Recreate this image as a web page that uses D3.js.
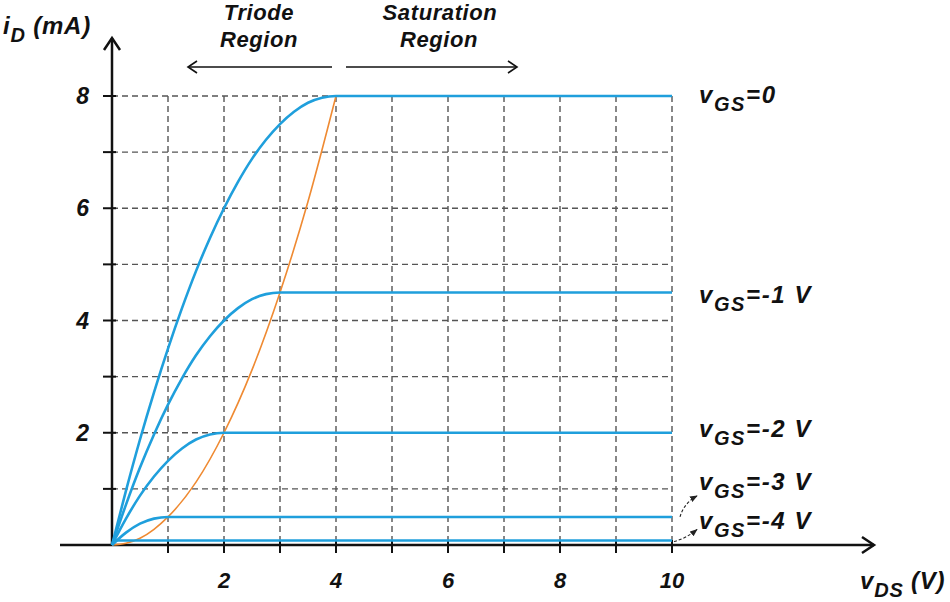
<!DOCTYPE html>
<html>
<head>
<meta charset="utf-8">
<script src="https://cdn.jsdelivr.net/npm/d3@7"></script>
<style>
  body { margin: 0; background: #fff; }
  svg { display: block; }
</style>
</head>
<body>
<div id="chart"></div>
<script>
// tick values
const gridX = [1, 2, 3, 4, 5, 6, 7, 8, 9, 10];
const gridY = [1, 2, 3, 4, 5, 6, 7, 8];
const xTickLabels = [2, 4, 6, 8, 10];
const yTickLabels = [2, 4, 6, 8];

// curve labels (text after "vGS")
const vgsLabels = ["=0", "=-1 V", "=-2 V", "=-3 V", "=-4 V"];

// drain current curves (vDS in V, iD in mA)
const vds0 = [0, 0.25, 0.5, 0.75, 1, 1.25, 1.5, 1.75, 2, 2.25, 2.5, 2.75, 3, 3.25, 3.5, 3.75, 4, 10];
const id0  = [0, 0.97, 1.88, 2.72, 3.5, 4.22, 4.88, 5.47, 6, 6.47, 6.88, 7.22, 7.5, 7.72, 7.88, 7.97, 8, 8];
const vds1 = [0, 0.25, 0.5, 0.75, 1, 1.25, 1.5, 1.75, 2, 2.25, 2.5, 2.75, 3, 10];
const id1  = [0, 0.72, 1.38, 1.97, 2.5, 2.97, 3.38, 3.72, 4, 4.22, 4.38, 4.47, 4.5, 4.5];
const vds2 = [0, 0.25, 0.5, 0.75, 1, 1.25, 1.5, 1.75, 2, 10];
const id2  = [0, 0.47, 0.88, 1.22, 1.5, 1.72, 1.88, 1.97, 2, 2];
const vds3 = [0, 0.25, 0.5, 0.75, 1, 10];
const id3  = [0, 0.22, 0.38, 0.47, 0.5, 0.5];
const vds4 = [0, 10];
const id4  = [0.08, 0.08];

// triode / saturation boundary
const vdsEdge = [0, 0.25, 0.5, 0.75, 1, 1.5, 2, 2.5, 3, 3.5, 4];
const idEdge  = [0, 0.03, 0.12, 0.28, 0.5, 1.12, 2, 3.12, 4.5, 6.12, 8];

const W = 950, H = 602;
const blue = "#1f9fdc", orange = "#ef8a32", ink = "#111";
const sans = "'Liberation Sans', Arial, sans-serif";

const svg = d3.select("#chart").append("svg")
    .attr("width", W)
    .attr("height", H)
    .attr("font-family", sans)
    .attr("font-weight", "bold")
    .attr("font-style", "italic");

const x = d3.scaleLinear().domain([0, 10]).range([112, 672]);
const y = d3.scaleLinear().domain([0, 8]).range([545, 96]);

const defs = svg.append("defs");
defs.append("marker")
    .attr("id", "tiny")
    .attr("viewBox", "0 0 10 10")
    .attr("refX", 9).attr("refY", 5)
    .attr("markerWidth", 7).attr("markerHeight", 7)
    .attr("orient", "auto")
    .append("path")
    .attr("d", "M0,1 L10,5 L0,9 Z")
    .attr("fill", "#222");

// grid
svg.append("g").selectAll("line")
    .data(gridX)
    .join("line")
    .attr("x1", d => x(d)).attr("x2", d => x(d))
    .attr("y1", y(8)).attr("y2", y(0))
    .attr("stroke", "#555")
    .attr("stroke-width", 1.4)
    .attr("stroke-dasharray", "6,4");

svg.append("g").selectAll("line")
    .data(gridY)
    .join("line")
    .attr("x1", x(0)).attr("x2", x(10))
    .attr("y1", d => y(d)).attr("y2", d => y(d))
    .attr("stroke", "#555")
    .attr("stroke-width", 1.4)
    .attr("stroke-dasharray", "6,4");

// axes with arrows
const axes = svg.append("g").attr("stroke", ink).attr("stroke-width", 2.5).attr("fill", "none");
axes.append("line").attr("x1", 60).attr("x2", 874).attr("y1", y(0)).attr("y2", y(0));
axes.append("path").attr("d", `M862,${y(0) - 8} L874,${y(0)} L862,${y(0) + 8}`);
axes.append("line").attr("x1", x(0)).attr("x2", x(0)).attr("y1", y(0)).attr("y2", 38);
axes.append("path").attr("d", `M${x(0) - 8},50 L${x(0)},38 L${x(0) + 8},50`);

// cross ticks
axes.selectAll(".xt")
    .data(gridX)
    .join("line")
    .attr("class", "xt")
    .attr("stroke-width", 2)
    .attr("x1", d => x(d)).attr("x2", d => x(d))
    .attr("y1", y(0) - 5).attr("y2", y(0) + 8);
axes.selectAll(".yt")
    .data(gridY)
    .join("line")
    .attr("class", "yt")
    .attr("stroke-width", 2)
    .attr("x1", x(0) - 9).attr("x2", x(0) + 4)
    .attr("y1", d => y(d)).attr("y2", d => y(d));

// tick labels
svg.append("g").selectAll("text")
    .data(xTickLabels)
    .join("text")
    .attr("x", d => x(d))
    .attr("y", 588)
    .attr("text-anchor", "middle")
    .attr("font-size", 22)
    .attr("fill", ink)
    .text(d => d);

svg.append("g").selectAll("text")
    .data(yTickLabels)
    .join("text")
    .attr("x", 89)
    .attr("y", d => y(d) + 8)
    .attr("text-anchor", "end")
    .attr("font-size", 23)
    .attr("fill", ink)
    .text(d => d);

// curves
const line = d3.line()
    .x(d => x(d[0]))
    .y(d => y(d[1]))
    .curve(d3.curveMonotoneX);

const series = [
    [vds0, id0], [vds1, id1], [vds2, id2], [vds3, id3], [vds4, id4]
];

svg.append("path")
    .datum(d3.zip(vdsEdge, idEdge))
    .attr("fill", "none")
    .attr("stroke", orange)
    .attr("stroke-width", 1.6)
    .attr("d", line);

svg.append("g").selectAll("path")
    .data(series)
    .join("path")
    .attr("fill", "none")
    .attr("stroke", blue)
    .attr("stroke-width", 2.6)
    .attr("d", d => line(d3.zip(d[0], d[1])));

// curve labels
const labelY = [103, 303, 437, 490, 529];
const labels = svg.append("g").attr("fill", ink);

function subText(g, x0, y0, main, sub, rest, size, subSize, spacing) {
    const t = g.append("text")
        .attr("x", x0).attr("y", y0)
        .attr("font-size", size)
        .attr("letter-spacing", spacing);
    t.append("tspan").text(main);
    t.append("tspan").attr("dy", 8).attr("font-size", subSize).text(sub);
    t.append("tspan").attr("dy", -8).text(rest);
    return t;
}

vgsLabels.forEach((s, i) => {
    subText(labels, 699, labelY[i], "v", "GS", s, 24, 20, 1.6);
});

// little dashed pointers for the two lowest curves
const pointers = svg.append("g")
    .attr("fill", "none")
    .attr("stroke", "#222")
    .attr("stroke-width", 1.1)
    .attr("stroke-dasharray", "3,2");
pointers.append("path")
    .attr("d", `M${x(10) + 8},${y(0.5)} Q${x(10) + 12},${y(0.5) - 14} ${x(10) + 25},${y(0.5) - 21}`)
    .attr("marker-end", "url(#tiny)");
pointers.append("path")
    .attr("d", `M${x(10) + 2},${y(0.08) + 1} Q${x(10) + 14},${y(0.08) - 2} ${x(10) + 25},${y(0.08) - 11}`)
    .attr("marker-end", "url(#tiny)");

// axis titles
subText(labels, 3, 34, "i", "D", " (mA)", 24, 20, 0.8);
subText(labels, 860, 589, "v", "DS", " (V)", 24, 20, 0.8);

// region annotations
const region = svg.append("g")
    .attr("font-size", 22)
    .attr("letter-spacing", 0.6)
    .attr("fill", ink)
    .attr("text-anchor", "middle");
region.append("text").attr("x", 259).attr("y", 20).text("Triode");
region.append("text").attr("x", 259).attr("y", 47).text("Region");
region.append("text").attr("x", 440).attr("y", 20).text("Saturation");
region.append("text").attr("x", 439).attr("y", 47).text("Region");

const arrows = svg.append("g")
    .attr("fill", "none")
    .attr("stroke", ink)
    .attr("stroke-width", 1.6);
arrows.append("line").attr("x1", 332).attr("x2", 188).attr("y1", 67).attr("y2", 67);
arrows.append("path").attr("d", "M197,61 L188,67 L197,73");
arrows.append("line").attr("x1", 346).attr("x2", 517).attr("y1", 67).attr("y2", 67);
arrows.append("path").attr("d", "M508,61 L517,67 L508,73");
</script>
</body>
</html>
